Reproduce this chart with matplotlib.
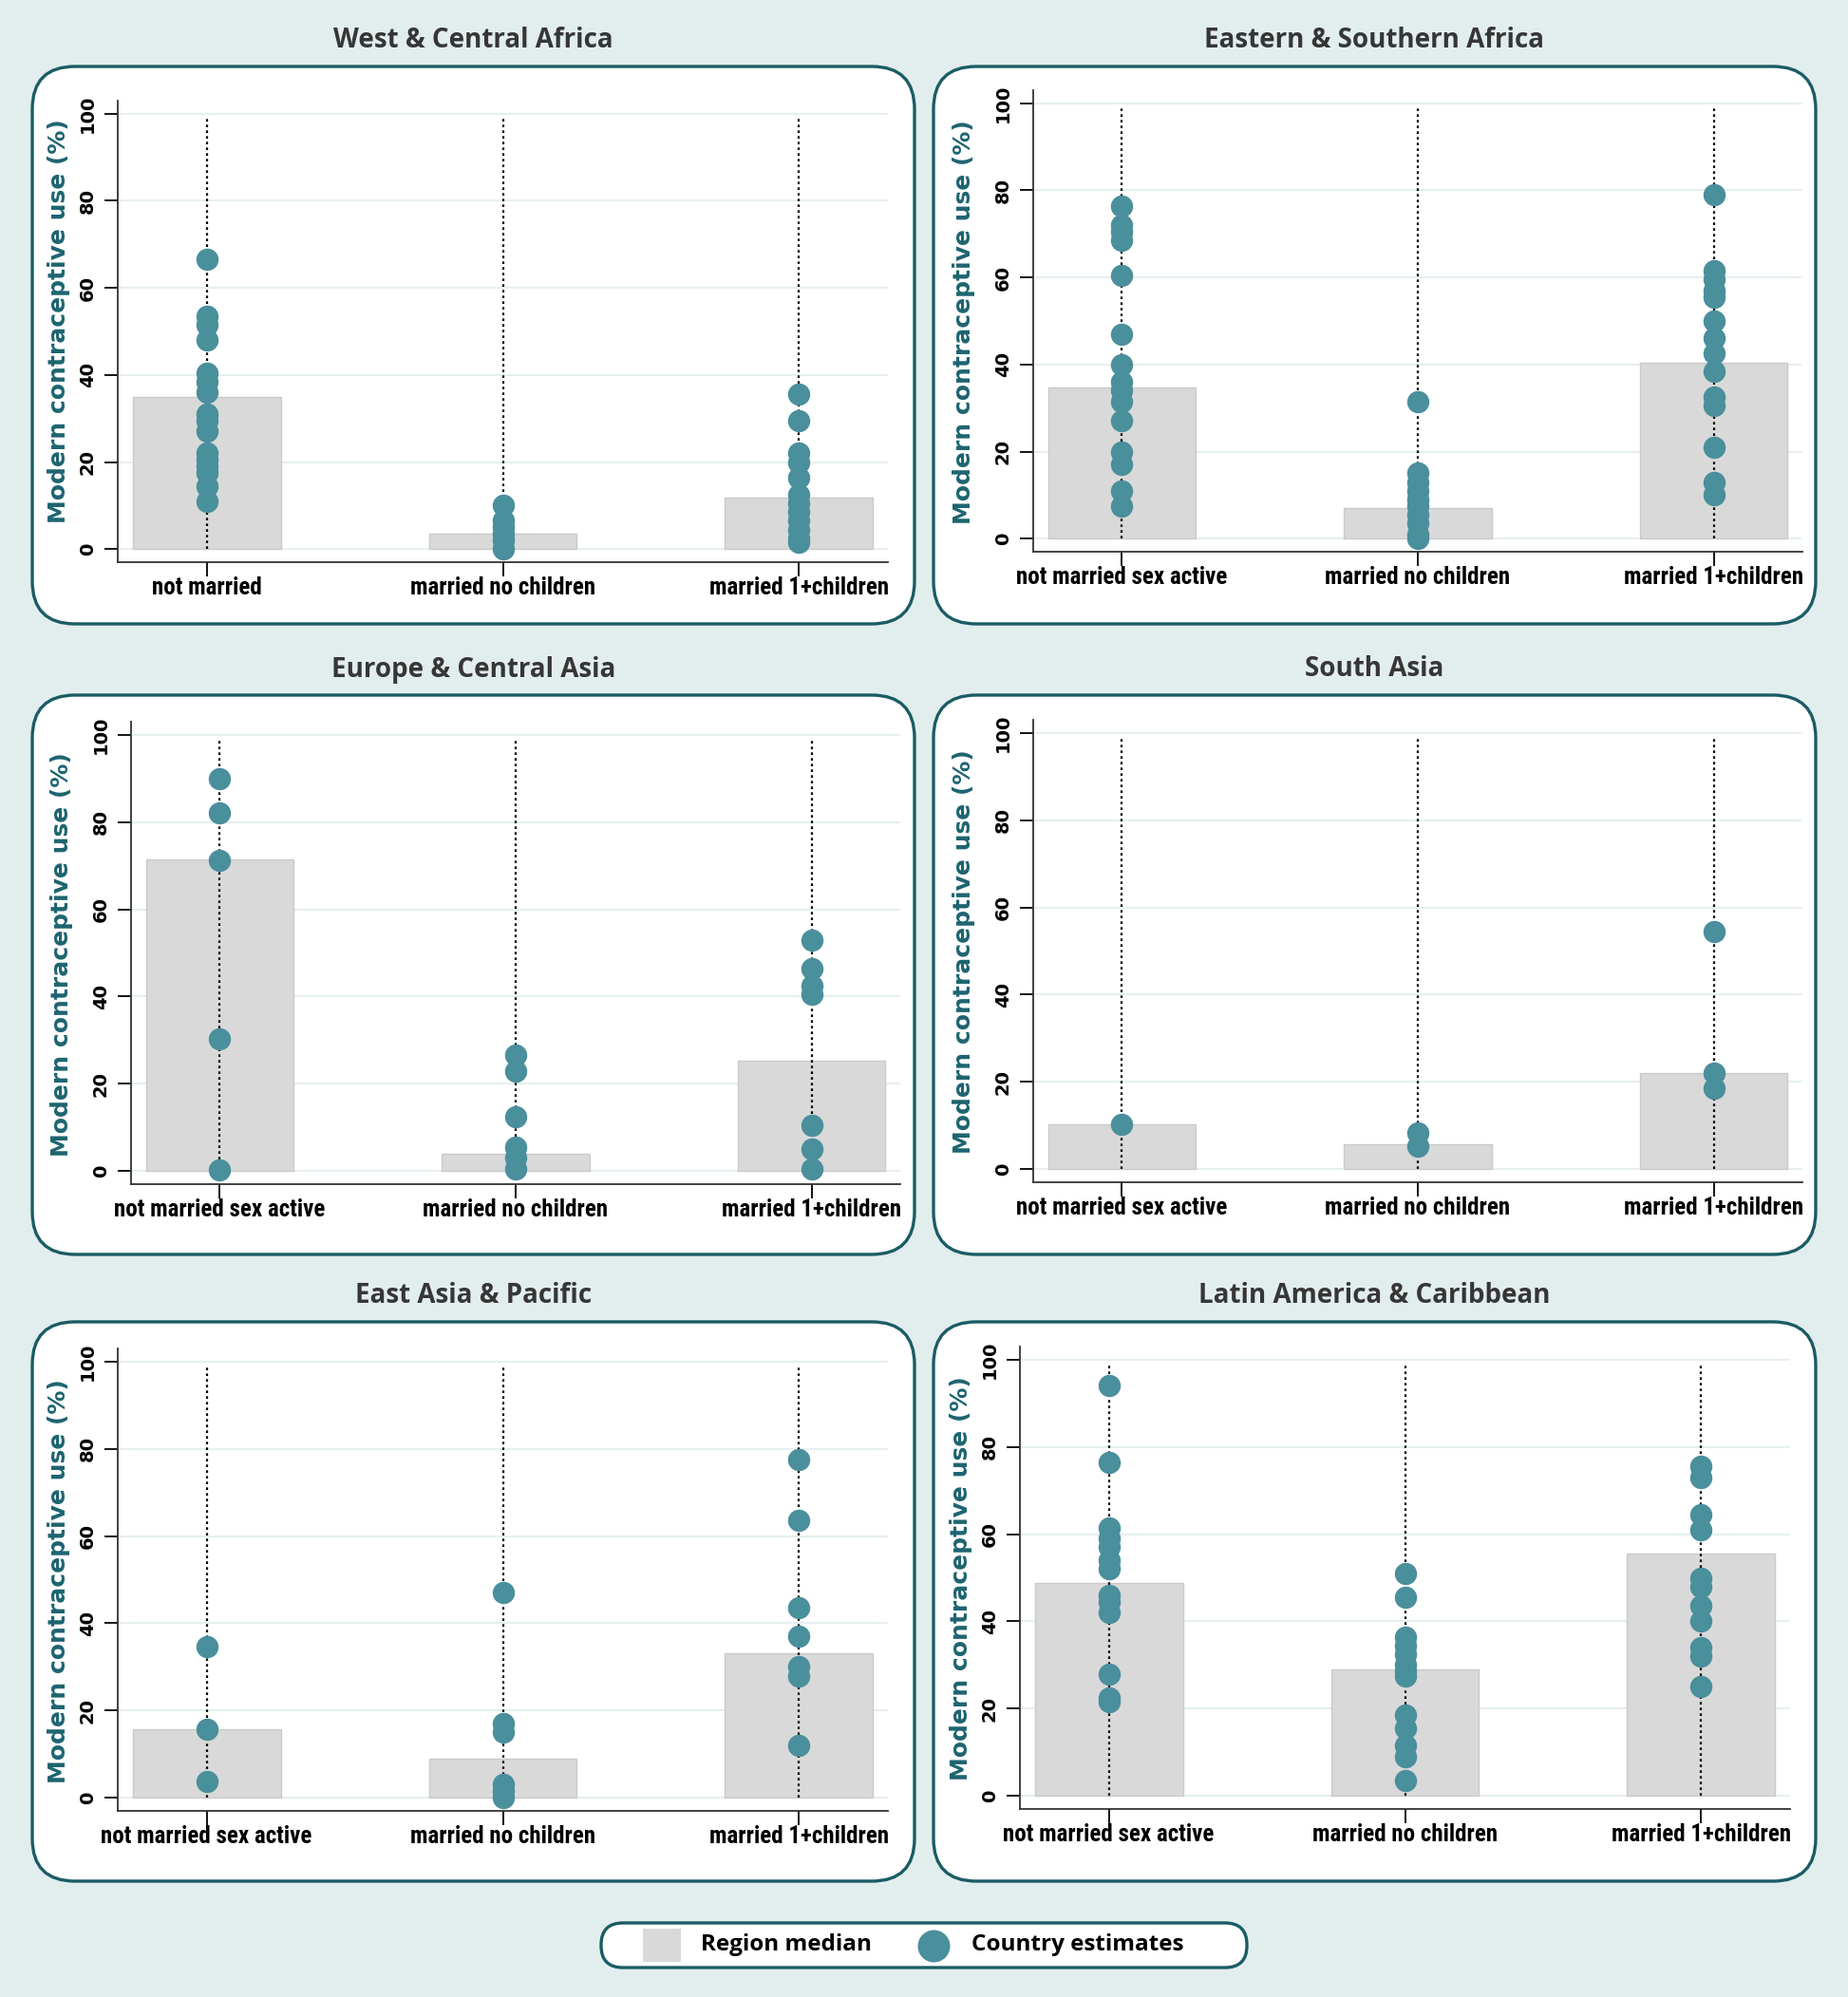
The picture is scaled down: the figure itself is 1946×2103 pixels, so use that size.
import matplotlib
matplotlib.use('Agg')
import matplotlib.pyplot as plt
from matplotlib.patches import FancyBboxPatch, Rectangle
from matplotlib import font_manager

# ---- data ----
regions = ['West & Central Africa', 'Eastern & Southern Africa',
           'Europe & Central Asia', 'South Asia',
           'East Asia & Pacific', 'Latin America & Caribbean']

cats_wca = ['not married', 'married no children', 'married 1+children']
cats = ['not married sex active', 'married no children', 'married 1+children']

wca_median = [34.9, 3.6, 11.9]
wca_not_married = [66.5, 53.5, 51.5, 48, 40.5, 38.5, 36, 31, 29.5, 27, 22, 20.5, 19, 17.5, 14.5, 11]
wca_married_nochild = [10, 6.5, 5, 3.5, 2, 0]
wca_married_child = [35.5, 29.5, 22, 20, 16.5, 12.5, 10.5, 8.5, 6.5, 4.5, 2.5, 1.5]

esa_median = [34.7, 7.1, 40.3]
esa_not_married = [76.5, 72, 70.5, 68.5, 60.5, 47, 40, 36, 34, 31.5, 27, 20, 17, 11, 7.5]
esa_married_nochild = [31.5, 15, 13, 11, 9, 7.5, 5.5, 3.5, 1, 0]
esa_married_child = [79, 61.5, 59.5, 57, 55.5, 50, 46, 42.5, 38.5, 32.5, 30.5, 21, 13, 10]

eca_median = [71.4, 3.9, 25.3]
eca_not_married = [90, 82, 71.3, 30.3, 0.2]
eca_married_nochild = [26.5, 23, 12.5, 5.5, 3, 0.5]
eca_married_child = [53, 46.5, 42.5, 40.5, 10.5, 5, 0.5]

sa_median = [10.3, 5.8, 22]
sa_not_married = [10.3]
sa_married_nochild = [8.4, 5.3]
sa_married_child = [54.4, 22, 18.6]

eap_median = [15.7, 9, 33.2]
eap_not_married = [34.7, 15.7, 3.8]
eap_married_nochild = [47, 17, 15, 3, 1.5, 0]
eap_married_child = [77.5, 63.5, 43.5, 37, 30, 28, 12]

lac_median = [48.7, 29.1, 55.6]
lac_not_married = [94, 76.5, 61.5, 59, 57, 54, 52, 46, 44.5, 42, 28, 22.5, 21.5]
lac_married_nochild = [51, 45.5, 36.5, 34.5, 32.5, 30, 28.5, 27.5, 18.5, 15.5, 11.5, 9, 3.5]
lac_married_child = [75.5, 73, 64.5, 61, 50, 48, 43.5, 40, 34, 32, 25]

medians = [wca_median, esa_median, eca_median, sa_median, eap_median, lac_median]
points = [
    [wca_not_married, wca_married_nochild, wca_married_child],
    [esa_not_married, esa_married_nochild, esa_married_child],
    [eca_not_married, eca_married_nochild, eca_married_child],
    [sa_not_married, sa_married_nochild, sa_married_child],
    [eap_not_married, eap_married_nochild, eap_married_child],
    [lac_not_married, lac_married_nochild, lac_married_child],
]
labels = [cats_wca, cats, cats, cats, cats, cats]
yticks = [0, 20, 40, 60, 80, 100]

# ---- style ----
BG = '#e2edee'
BORDER = '#1a5c64'
DOT = '#4a8f9c'
BAR = '#d9d9d9'
YLAB = '#1d6470'
TITLE = '#363636'


def pick(*names):
    avail = {f.name for f in font_manager.fontManager.ttflist}
    for n in names:
        if n in avail:
            return n
    return 'DejaVu Sans'


narrow = pick('Liberation Sans Narrow', 'Roboto Condensed', 'Open Sans', 'Liberation Sans')
titlefont = pick('Open Sans', 'Noto Sans', 'DejaVu Sans')

W, H = 1946, 2103
fig = plt.figure(figsize=(W / 100, H / 100), dpi=100)
fig.patch.set_facecolor(BG)

bg = fig.add_axes([0, 0, 1, 1])
bg.set_xlim(0, W)
bg.set_ylim(H, 0)
bg.axis('off')

# layout in pixels (left, top, right, bottom)
boxes = [(34, 70, 963, 657), (983, 70, 1912, 657),
         (34, 732, 963, 1321), (983, 732, 1912, 1321),
         (34, 1392, 963, 1981), (983, 1392, 1912, 1981)]
axrects = [(124, 106, 935, 592), (1088, 95, 1898, 581),
           (138, 760, 948, 1247), (1088, 758, 1898, 1245),
           (124, 1420, 935, 1907), (1074, 1418, 1885, 1905)]
title_y = [43, 43, 705, 705, 1365, 1365]
ylab_xy = [(62, 338), (1015, 339), (65, 1005), (1015, 1002), (62, 1665), (1012, 1662)]

for k in range(6):
    l, t, r, b = boxes[k]
    bg.add_patch(FancyBboxPatch((l, t), r - l, b - t,
                                boxstyle='round,pad=0,rounding_size=45',
                                fc='white', ec=BORDER, lw=2.4))
    bg.text((l + r) / 2, title_y[k], regions[k], ha='center', va='center',
            fontsize=20, fontweight='bold', family=titlefont, color=TITLE)
    bg.text(ylab_xy[k][0], ylab_xy[k][1], 'Modern contraceptive use (%)',
            rotation=90, ha='center', va='center', fontsize=18,
            fontweight='bold', family='DejaVu Sans', color=YLAB)

    al, at, ar, ab = axrects[k]
    ax = fig.add_axes([al / W, 1 - ab / H, (ar - al) / W, (ab - at) / H])
    ax.set_facecolor('white')
    x = [0, 1, 2]
    ax.bar(x, medians[k], width=0.5, color=BAR, edgecolor='#cacaca', lw=1, zorder=2)
    ax.vlines(x, 0, 99, colors='black', linestyles=(0, (1.2, 1.5)), lw=1.6, zorder=3)
    for i, pts in enumerate(points[k]):
        ax.scatter([i] * len(pts), pts, s=285, color=DOT, linewidths=0, zorder=4, clip_on=False)
    ax.set_xlim(-0.3, 2.3)
    ax.set_ylim(-3, 103)
    ax.set_yticks(yticks)
    ax.set_yticklabels([str(v) for v in yticks], fontsize=14, fontweight='bold',
                       family='DejaVu Sans', rotation=90, va='center')
    ax.grid(axis='y', color='#e6eff0', lw=1.5)
    ax.set_axisbelow(True)
    ax.set_xticks(x)
    ax.set_xticklabels(labels[k], fontsize=18, fontweight='bold', family=narrow)
    ax.tick_params(axis='y', length=10, width=1.3, pad=6)
    ax.tick_params(axis='x', length=11, width=1.3, pad=0)
    for s in ['top', 'right']:
        ax.spines[s].set_visible(False)
    for s in ['left', 'bottom']:
        ax.spines[s].set_linewidth(1.3)
        ax.spines[s].set_color('#333333')

# legend
bg.add_patch(FancyBboxPatch((633, 2025), 680, 47, boxstyle='round,pad=0,rounding_size=23',
                            fc='white', ec=BORDER, lw=2.4))
bg.add_patch(Rectangle((677, 2031), 40, 35, fc=BAR, ec='none'))
bg.scatter([983], [2048.5], s=(34 * 0.72) ** 2, color=DOT, linewidths=0)
bg.text(738, 2048.5, 'Region median', ha='left', va='center', fontsize=17.5,
        fontweight='bold', family=titlefont, color='black')
bg.text(1023, 2048.5, 'Country estimates', ha='left', va='center', fontsize=17.5,
        fontweight='bold', family=titlefont, color='black')

fig.savefig('out.png', dpi=100, facecolor=BG)
